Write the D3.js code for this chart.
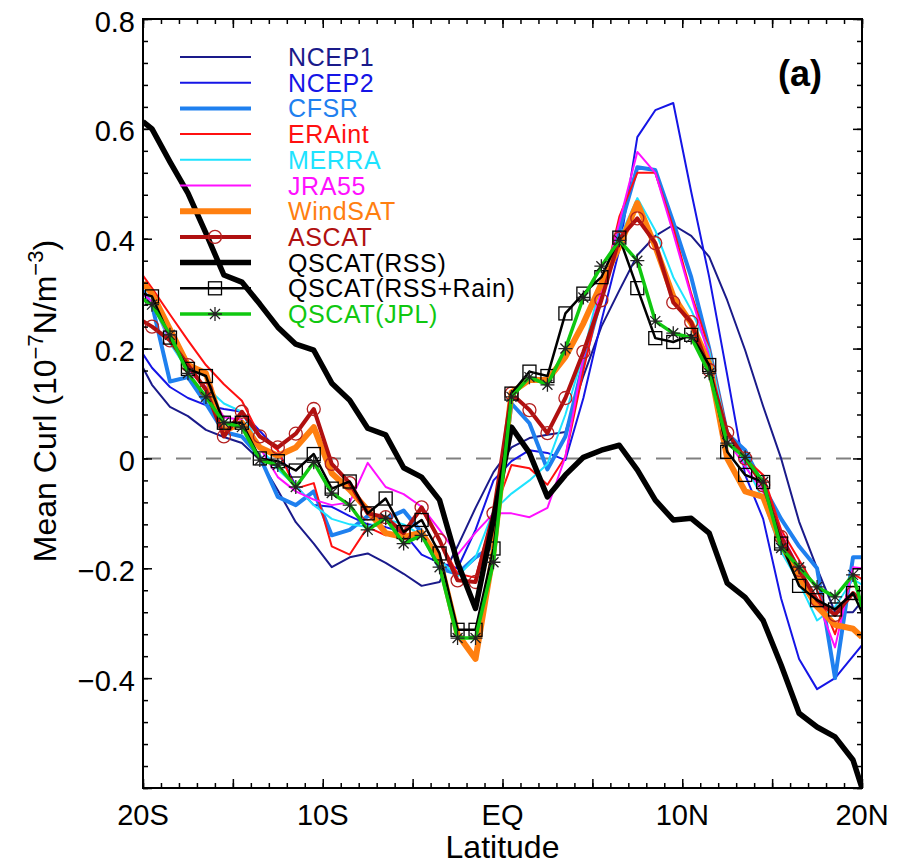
<!DOCTYPE html>
<html>
<head>
<meta charset="utf-8">
<script src="https://cdn.jsdelivr.net/npm/d3@7"></script>
<style>
  body { margin: 0; background: #fff; }
  svg { display: block; }
  text { font-family: "Liberation Sans", Arial, Helvetica, sans-serif; }
</style>
</head>
<body>
<div id="chart"></div>
<script>
// latitude of each point (edges at 20S/20N, then 1-degree bin centres)
const lats = [-20, -19.5, -18.5, -17.5, -16.5, -15.5, -14.5, -13.5, -12.5, -11.5, -10.5,
  -9.5, -8.5, -7.5, -6.5, -5.5, -4.5, -3.5, -2.5, -1.5, -0.5,
  0.5, 1.5, 2.5, 3.5, 4.5, 5.5, 6.5, 7.5, 8.5, 9.5,
  10.5, 11.5, 12.5, 13.5, 14.5, 15.5, 16.5, 17.5, 18.5, 19.5, 20]

const ncep1 = [0.165, 0.134, 0.094, 0.077, 0.052, 0.039, 0.028, -0.003, -0.058, -0.116, -0.155,
  -0.198, -0.18, -0.173, -0.19, -0.21, -0.232, -0.225, -0.16, -0.09, -0.025,
  0.02, 0.037, 0.043, 0.048, 0.15, 0.24, 0.306, 0.37, 0.405, 0.425,
  0.405, 0.367, 0.288, 0.197, 0.095, 0.0, -0.115, -0.2, -0.28, -0.28, -0.26]
const ncep2 = [0.19, 0.165, 0.13, 0.11, 0.097, 0.09, 0.085, 0.05, 0.015, -0.05, -0.085,
  -0.088, -0.105, -0.12, -0.125, -0.135, -0.175, -0.19, -0.2, -0.13, -0.04,
  -0.005, 0.015, 0.01, -0.003, 0.11, 0.25, 0.38, 0.585, 0.634, 0.647,
  0.485, 0.33, 0.152, -0.03, -0.11, -0.255, -0.365, -0.42, -0.4, -0.36, -0.34]
const cfsr = [0.305, 0.28, 0.14, 0.148, 0.1, 0.048, 0.04, 0.003, -0.07, -0.085, -0.06,
  -0.14, -0.13, -0.105, -0.11, -0.095, -0.135, -0.2, -0.21, -0.18, -0.16,
  0.1, 0.064, -0.02, 0.04, 0.174, 0.294, 0.415, 0.53, 0.525, 0.43,
  0.33, 0.2, 0.045, 0.015, -0.05, -0.11, -0.16, -0.2, -0.4, -0.18, -0.18]
const eraint = [0.333, 0.31, 0.262, 0.215, 0.17, 0.135, 0.105, 0.04, 0.015, -0.055, -0.045,
  -0.16, -0.175, -0.125, -0.14, -0.135, -0.093, -0.15, -0.21, -0.217, -0.1,
  -0.012, -0.018, -0.048, 0.003, 0.16, 0.3, 0.44, 0.52, 0.52, 0.42,
  0.3, 0.2, 0.05, 0.0, -0.03, -0.13, -0.185, -0.24, -0.32, -0.21, -0.22]
const merra = [0.3, 0.285, 0.21, 0.16, 0.13, 0.1, 0.085, 0.02, -0.02, -0.05, -0.085,
  -0.11, -0.12, -0.125, -0.11, -0.12, -0.14, -0.185, -0.215, -0.18, -0.095,
  -0.064, -0.04, -0.01, 0.08, 0.19, 0.325, 0.4, 0.474, 0.415, 0.33,
  0.27, 0.197, 0.045, -0.01, -0.076, -0.17, -0.226, -0.295, -0.27, -0.22, -0.23]
const jra55 = [0.3, 0.285, 0.215, 0.16, 0.13, 0.075, 0.07, 0.02, -0.034, -0.06, -0.075,
  -0.085, -0.08, -0.008, -0.052, -0.065, -0.088, -0.13, -0.175, -0.135, -0.1,
  -0.1, -0.107, -0.09, 0.003, 0.185, 0.306, 0.43, 0.558, 0.52, 0.41,
  0.295, 0.185, 0.033, -0.015, -0.06, -0.136, -0.2, -0.258, -0.344, -0.198, -0.2]
const windsat = [0.32, 0.3, 0.235, 0.17, 0.155, 0.05, 0.065, 0.02, 0.005, 0.02, 0.057,
  -0.027, -0.057, -0.094, -0.136, -0.143, -0.135, -0.185, -0.32, -0.365, -0.17,
  0.12, 0.143, 0.143, 0.185, 0.246, 0.318, 0.386, 0.465, 0.386, 0.295,
  0.246, 0.173, 0.0, -0.06, -0.07, -0.155, -0.216, -0.27, -0.303, -0.31, -0.325]
const ascat = [0.25, 0.24, 0.215, 0.17, 0.125, 0.04, 0.085, 0.04, 0.02, 0.045, 0.09,
  -0.01, -0.045, -0.1, -0.107, -0.136, -0.089, -0.149, -0.222, -0.225, -0.1,
  0.118, 0.088, 0.046, 0.11, 0.194, 0.288, 0.4, 0.437, 0.392, 0.284,
  0.248, 0.161, 0.047, 0.0, -0.049, -0.143, -0.203, -0.258, -0.285, -0.245, -0.26]
const qscatRss = [0.613, 0.6, 0.54, 0.483, 0.41, 0.334, 0.321, 0.281, 0.239, 0.208, 0.197,
  0.137, 0.106, 0.055, 0.043, -0.017, -0.034, -0.076, -0.19, -0.273, -0.11,
  0.057, 0.01, -0.07, -0.03, 0.002, 0.015, 0.024, -0.021, -0.076, -0.112,
  -0.109, -0.136, -0.227, -0.253, -0.295, -0.376, -0.464, -0.489, -0.507, -0.549, -0.6]
const qscatRain = [0.3, 0.295, 0.22, 0.163, 0.15, 0.065, 0.065, 0.0, -0.005, -0.022, 0.008,
  -0.055, -0.042, -0.1, -0.073, -0.134, -0.112, -0.173, -0.312, -0.312, -0.164,
  0.118, 0.158, 0.15, 0.264, 0.3, 0.33, 0.402, 0.31, 0.219, 0.212,
  0.225, 0.17, 0.012, -0.03, -0.043, -0.155, -0.232, -0.258, -0.275, -0.245, -0.28]
const qscatJpl = [0.29, 0.28, 0.225, 0.155, 0.112, 0.065, 0.057, -0.003, -0.012, -0.052, -0.007,
  -0.063, -0.085, -0.13, -0.109, -0.155, -0.14, -0.198, -0.327, -0.327, -0.189,
  0.112, 0.148, 0.134, 0.2, 0.293, 0.35, 0.397, 0.36, 0.25, 0.228,
  0.22, 0.155, 0.028, 0.002, -0.043, -0.163, -0.198, -0.234, -0.252, -0.212, -0.27]

const names = ["NCEP1", "NCEP2", "CFSR", "ERAint", "MERRA", "JRA55", "WindSAT", "ASCAT",
  "QSCAT(RSS)", "QSCAT(RSS+Rain)", "QSCAT(JPL)"]
const values = [ncep1, ncep2, cfsr, eraint, merra, jra55, windsat, ascat, qscatRss, qscatRain, qscatJpl]
const colors = ["#1a1a8a", "#1515e6", "#1f80ef", "#ff1010", "#1ee3ff", "#ff10ff", "#ff7f10",
  "#b01010", "#000000", "#000000", "#10c810"]
const widths = [2, 2, 4, 2, 2, 2, 6, 4, 5.5, 2.5, 3.5]
const symbols = [null, null, null, null, null, null, null, "circle", null, "square", "asterisk"]
const symbolColors = [null, null, null, null, null, null, null, "#b42020", null, "#000", "#222"]

const xTickValues = [-20, -10, 0, 10, 20]
const xTickLabels = ["20S", "10S", "EQ", "10N", "20N"]
const yTickValues = [0.8, 0.6, 0.4, 0.2, 0, -0.2, -0.4]
const yTickLabels = ["0.8", "0.6", "0.4", "0.2", "0", "\u22120.2", "\u22120.4"]

const W = 903, H = 866
const pLeft = 143, pRight = 862, pTop = 19, pBottom = 788

const svg = d3.select("#chart").append("svg")
  .attr("width", W).attr("height", H)

const x = d3.scaleLinear().domain([-20, 20]).range([pLeft, pRight])
const y = d3.scaleLinear().domain([-0.6, 0.8]).range([pBottom, pTop])

svg.append("clipPath").attr("id", "plotclip")
  .append("rect").attr("x", pLeft).attr("y", pTop)
  .attr("width", pRight - pLeft).attr("height", pBottom - pTop)

// zero line
svg.append("line")
  .attr("x1", pLeft + 3).attr("x2", pRight)
  .attr("y1", y(0)).attr("y2", y(0))
  .attr("stroke", "#808080").attr("stroke-width", 2)
  .attr("stroke-dasharray", "15,15")

const line = d3.line().x((d, i) => x(lats[i])).y(d => y(d))

function drawSymbol(g, type, color, cx, cy) {
  if (type === "circle") {
    g.append("circle").attr("cx", cx).attr("cy", cy).attr("r", 6.5)
      .attr("fill", "none").attr("stroke", color).attr("stroke-width", 1.3)
  } else if (type === "square") {
    g.append("rect").attr("x", cx - 6.5).attr("y", cy - 6.5)
      .attr("width", 13).attr("height", 13)
      .attr("fill", "none").attr("stroke", color).attr("stroke-width", 1.3)
  } else if (type === "asterisk") {
    const r = 7, q = 5
    g.append("path")
      .attr("d", `M${cx - r},${cy}L${cx + r},${cy}M${cx},${cy - r}L${cx},${cy + r}` +
        `M${cx - q},${cy - q}L${cx + q},${cy + q}M${cx - q},${cy + q}L${cx + q},${cy - q}`)
      .attr("stroke", color).attr("stroke-width", 1.3).attr("fill", "none")
  }
}

const plot = svg.append("g").attr("clip-path", "url(#plotclip)")

values.forEach((vals, s) => {
  plot.append("path")
    .attr("d", line(vals))
    .attr("fill", "none")
    .attr("stroke", colors[s])
    .attr("stroke-width", widths[s])
    .attr("stroke-linejoin", "round")
  if (symbols[s]) {
    const g = plot.append("g")
    vals.forEach((v, i) => {
      if (i === 0 || i === vals.length - 1) return
      drawSymbol(g, symbols[s], symbolColors[s], x(lats[i]), y(v))
    })
  }
})

// axes: ticks point inwards on all four sides
const xMinor = d3.range(-20, 20.5, 1)
const xMajor = d3.range(-20, 20.5, 5)
const yMinor = d3.range(-0.6, 0.81, 0.04)
const yMajor = d3.range(-0.6, 0.81, 0.2)

function addAxis(axisFn, scale, ticks, size, transform) {
  const g = svg.append("g").attr("transform", transform)
    .call(axisFn(scale).tickValues(ticks).tickSizeInner(-size).tickSizeOuter(0).tickFormat(""))
  g.select(".domain").remove()
  g.selectAll(".tick line").attr("stroke", "#000").attr("stroke-width", 1.5)
}
addAxis(d3.axisBottom, x, xMinor, 5, `translate(0,${pBottom})`)
addAxis(d3.axisBottom, x, xMajor, 9, `translate(0,${pBottom})`)
addAxis(d3.axisTop, x, xMinor, 5, `translate(0,${pTop})`)
addAxis(d3.axisTop, x, xMajor, 9, `translate(0,${pTop})`)
addAxis(d3.axisLeft, y, yMinor, 5, `translate(${pLeft},0)`)
addAxis(d3.axisLeft, y, yMajor, 9, `translate(${pLeft},0)`)
addAxis(d3.axisRight, y, yMinor, 5, `translate(${pRight},0)`)
addAxis(d3.axisRight, y, yMajor, 9, `translate(${pRight},0)`)

svg.append("rect")
  .attr("x", pLeft).attr("y", pTop)
  .attr("width", pRight - pLeft).attr("height", pBottom - pTop)
  .attr("fill", "none").attr("stroke", "#000").attr("stroke-width", 2)

// tick labels
svg.selectAll(".xlab").data(xTickValues).enter().append("text")
  .attr("class", "xlab")
  .attr("x", d => x(d)).attr("y", 825)
  .attr("text-anchor", "middle")
  .attr("font-size", 29)
  .text((d, i) => xTickLabels[i])

svg.selectAll(".ylab").data(yTickValues).enter().append("text")
  .attr("class", "ylab")
  .attr("x", 135).attr("y", d => y(d) + 12.5)
  .attr("text-anchor", "end")
  .attr("font-size", 29)
  .text((d, i) => yTickLabels[i])

// axis titles
svg.append("text")
  .attr("x", (pLeft + pRight) / 2).attr("y", 858)
  .attr("text-anchor", "middle").attr("font-size", 32)
  .text("Latitude")

const yt = svg.append("text")
  .attr("transform", "translate(56,401) rotate(-90)")
  .attr("text-anchor", "middle").attr("font-size", 32)
yt.append("tspan").text("Mean Curl (10")
yt.append("tspan").attr("font-size", 22).attr("dy", -13).text("\u22127")
yt.append("tspan").attr("dy", 13).text("N/m")
yt.append("tspan").attr("font-size", 22).attr("dy", -13).text("\u22123")
yt.append("tspan").attr("dy", 13).text(")")

// panel label
svg.append("text")
  .attr("x", 800).attr("y", 86)
  .attr("text-anchor", "middle")
  .attr("font-size", 36).attr("font-weight", "bold")
  .text("(a)")

// legend
const legend = svg.append("g")
names.forEach((name, i) => {
  const ly = 57 + i * 25.7
  legend.append("line")
    .attr("x1", 180).attr("x2", 251).attr("y1", ly).attr("y2", ly)
    .attr("stroke", colors[i]).attr("stroke-width", Math.min(widths[i], 6))
  if (symbols[i]) drawSymbol(legend, symbols[i], symbolColors[i], 215, ly)
  legend.append("text")
    .attr("x", 288).attr("y", ly + 9)
    .attr("font-size", 25)
    .attr("letter-spacing", 0.6)
    .attr("fill", colors[i])
    .text(name)
})
</script>
</body>
</html>
